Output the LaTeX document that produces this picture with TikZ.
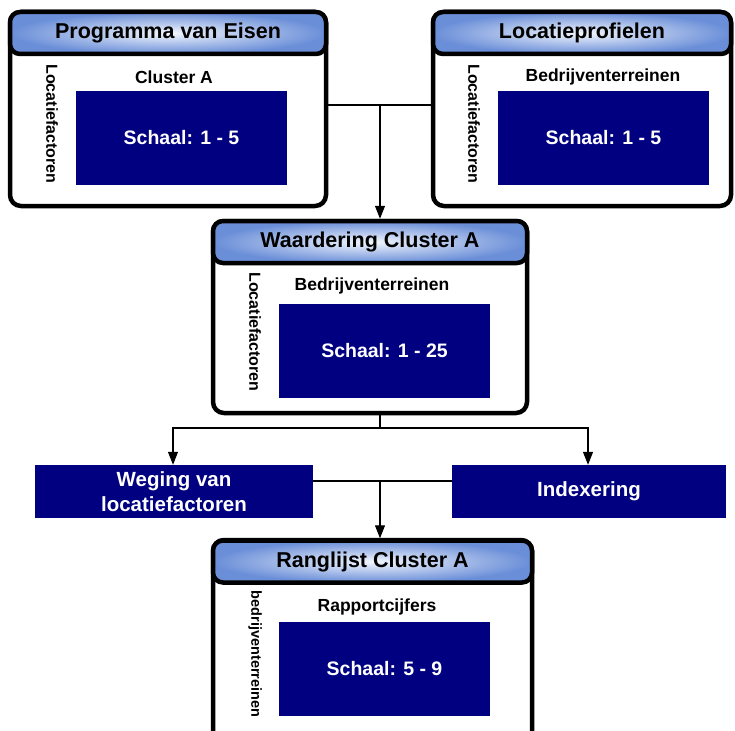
\documentclass[tikz,border=0pt]{standalone}
\usepackage{fontspec}
\setmainfont{Liberation Sans}
\usetikzlibrary{arrows.meta}

\definecolor{navy}{HTML}{000080}
\definecolor{headblue}{HTML}{6A8ED8}
\definecolor{headlight}{HTML}{F2F6FD}

\begin{document}
\begin{tikzpicture}[
        x=1pt, y=-1pt,
        panel/.style = {rectangle, rounded corners=11pt, draw, line width=4.5pt, fill=white, inner sep=0pt},
        header/.style = {rectangle, rounded corners=10pt, draw, line width=4.5pt, inner sep=0pt,
                         inner color=headlight, outer color=headblue, minimum height=42pt,
                         font=\fontsize{21.5}{24}\selectfont\bfseries},
        scalebox/.style = {rectangle, fill=navy, text=white, inner sep=0pt, minimum width=211pt, minimum height=94pt,
                           font=\fontsize{19.5}{22}\selectfont\bfseries},
        stepbox/.style = {rectangle, fill=navy, text=white, inner sep=0pt, minimum height=53pt, align=center,
                          font=\fontsize{20.5}{25}\selectfont\bfseries},
        subtitle/.style = {font=\fontsize{17.5}{20}\selectfont\bfseries},
        sidelabel/.style = {rotate=-90, font=\fontsize{16}{18}\selectfont\bfseries},
        arrow/.style = {-{Triangle[length=13pt, width=10pt]}},
        line/.style = {line width=1.2pt}
        ]
        \useasboundingbox (0,0) rectangle (735,730);
        \clip (0,0) rectangle (735,730);

        % top left
        \node[panel, minimum width=316pt, minimum height=194pt] (prog) at (168,109) {};
        \node[header, minimum width=316pt] (proghead) at (168,33) {Programma van Eisen};
        \node[subtitle] (progsub) at (174,77) {Cluster A};
        \node[sidelabel] (progside) at (52,124) {Locatiefactoren};
        \node[scalebox] (progscale) at (181.5,138) {Schaal: 1 - 5};

        % top right
        \node[panel, minimum width=298pt, minimum height=194pt] (locprof) at (582,109) {};
        \node[header, minimum width=298pt] (locprofhead) at (582,33) {Locatieprofielen};
        \node[subtitle] (locprofsub) at (603,77) {Bedrijventerreinen};
        \node[sidelabel] (locprofside) at (474,124) {Locatiefactoren};
        \node[scalebox] (locprofscale) at (603.5,138) {Schaal: 1 - 5};

        % middle
        \node[panel, minimum width=314pt, minimum height=192pt] (waard) at (370,317) {};
        \node[header, minimum width=314pt] (waardhead) at (370,242) {Waardering Cluster A};
        \node[subtitle] (waardsub) at (372,286) {Bedrijventerreinen};
        \node[sidelabel] (waardside) at (255,332) {Locatiefactoren};
        \node[scalebox] (waardscale) at (384.5,351) {Schaal: 1 - 25};

        % steps
        \node[stepbox, minimum width=278pt] (weging) at (174,491.5) {Weging van\\locatiefactoren};
        \node[stepbox, minimum width=274pt] (index) at (589,491.5) {Indexering};

        % bottom
        \node[panel, minimum width=319pt, minimum height=210pt] (rang) at (372.5,645) {};
        \node[header, minimum width=319pt] (ranghead) at (372.5,561.5) {Ranglijst Cluster A};
        \node[subtitle] (rangsub) at (377,607) {Rapportcijfers};
        \node[sidelabel, font=\fontsize{14.5}{17}\selectfont\bfseries] (rangside) at (255,654) {bedrijventerreinen};
        \node[scalebox] (rangscale) at (384.5,669) {Schaal: 5 - 9};

        % connectors
        \coordinate (j1) at (380,105);
        \coordinate (j2) at (380,428);
        \coordinate (j3) at (380,481);
        \draw[line] (prog.east |- j1) -- (locprof.west |- j1);
        \draw[line, arrow] (j1) -- (j1 |- waardhead.north);
        \draw[line] (j2 |- waard.south) -- (j2);
        \draw[line, arrow] (j2) -| ([xshift=-1pt]weging.north);
        \draw[line, arrow] (j2) -| ([xshift=-1pt]index.north);
        \draw[line] (weging.east |- j3) -- (index.west |- j3);
        \draw[line, arrow] (j3) -- (j3 |- ranghead.north);
\end{tikzpicture}
\end{document}
